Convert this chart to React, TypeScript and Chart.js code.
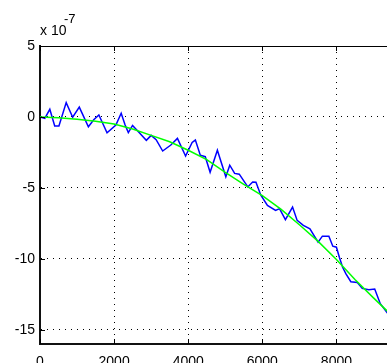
import React, { useEffect, useRef } from "react";
import { Chart, registerables } from "chart.js";

Chart.register(...registerables);

// Values in units of 1e-7
const blueX = [0, 130, 265, 397, 511, 707, 882, 1060, 1306, 1450, 1589, 1809, 2048, 2191, 2297, 2384, 2498, 2694, 2869, 3001, 3134, 3311, 3531, 3709, 3929, 4106, 4193, 4326, 4460, 4591, 4787, 5015, 5121, 5253, 5378, 5608, 5740, 5828, 5960, 6138, 6358, 6464, 6623, 6816, 6940, 7107, 7285, 7505, 7621, 7796, 7902, 8000, 8079, 8167, 8257, 8389, 8564, 8697, 8874, 9033, 9184, 9400, 9600];
const blueY = [0.0, -0.1, 0.54, -0.64, -0.64, 1.01, -0.02, 0.69, -0.69, -0.2, 0.14, -1.11, -0.57, 0.26, -0.57, -1.1, -0.6, -1.15, -1.65, -1.3, -1.6, -2.4, -1.98, -1.51, -2.75, -1.8, -1.63, -2.69, -2.8, -3.9, -2.34, -4.22, -3.4, -3.98, -4.03, -4.93, -4.58, -4.6, -5.52, -6.23, -6.58, -6.46, -7.24, -6.35, -7.29, -7.64, -7.88, -8.82, -8.4, -8.4, -9.11, -9.18, -9.89, -10.59, -11.06, -11.61, -11.66, -12.08, -12.17, -12.12, -13.16, -13.9, -14.3];

const greenX = [0, 500, 1000, 1500, 2000, 2500, 3000, 3500, 4000, 4500, 5000, 5500, 6000, 6500, 7000, 7500, 8000, 8500, 9000, 9500, 10000];
const greenY = [0, -0.05, -0.17, -0.3, -0.5, -0.85, -1.3, -1.75, -2.35, -3.0, -3.9, -4.75, -5.55, -6.5, -7.6, -8.75, -10.05, -11.45, -12.75, -14.0, -15.3];

const xTicks = [0, 2000, 4000, 6000, 8000, 10000];
const yTicks = [-15, -10, -5, 0, 5];

const FONT = "'Liberation Sans', Arial, sans-serif";

export default function App() {
  const ref = useRef<HTMLCanvasElement | null>(null);

  useEffect(() => {
    const canvas = ref.current;
    if (!canvas) return;

    const frame = {
      id: "matlabFrame",
      afterDraw(chart: any) {
        const { ctx, chartArea } = chart;
        const xs = chart.scales.x;
        const ys = chart.scales.y;
        ctx.save();
        ctx.strokeStyle = "#000";
        ctx.lineWidth = 1;
        // top border
        ctx.beginPath();
        ctx.moveTo(chartArea.left, chartArea.top + 0.5);
        ctx.lineTo(chartArea.right, chartArea.top + 0.5);
        ctx.stroke();
        // inward tick marks
        ctx.beginPath();
        for (const t of xTicks) {
          const px = Math.round(xs.getPixelForValue(t)) + 0.5;
          ctx.moveTo(px, chartArea.bottom);
          ctx.lineTo(px, chartArea.bottom - 5);
          ctx.moveTo(px, chartArea.top);
          ctx.lineTo(px, chartArea.top + 5);
        }
        for (const t of yTicks) {
          const py = Math.round(ys.getPixelForValue(t)) + 0.5;
          ctx.moveTo(chartArea.left, py);
          ctx.lineTo(chartArea.left + 5, py);
        }
        ctx.stroke();
        // exponent label
        ctx.fillStyle = "#000";
        ctx.textBaseline = "alphabetic";
        ctx.textAlign = "left";
        ctx.font = `14px ${FONT}`;
        ctx.fillText("x 10", 40, 35);
        ctx.font = `13px ${FONT}`;
        ctx.fillText("-7", 64, 23);
        ctx.restore();
      },
    };

    const chart = new Chart(canvas, {
      type: "line",
      data: {
        datasets: [
          {
            label: "fit",
            data: greenX.map((x, i) => ({ x, y: greenY[i] })),
            borderColor: "rgb(0,255,0)",
            borderWidth: 1.5,
            pointRadius: 0,
            fill: false,
            tension: 0,
          },
          {
            label: "signal",
            data: blueX.map((x, i) => ({ x, y: blueY[i] })),
            borderColor: "rgb(0,0,255)",
            borderWidth: 1.5,
            pointRadius: 0,
            fill: false,
            tension: 0,
          },
        ],
      },
      options: {
        animation: false,
        responsive: false,
        devicePixelRatio: 1,
        layout: { padding: { left: 0, top: 46, right: 22, bottom: 0 } },
        plugins: { legend: { display: false }, tooltip: { enabled: false } },
        scales: {
          x: {
            type: "linear",
            min: 0,
            max: 10000,
            afterBuildTicks: (s: any) => {
              s.ticks = xTicks.map((v) => ({ value: v }));
            },
            afterFit: (s: any) => {
              s.height = 19;
            },
            grid: { color: "#000", lineWidth: 1, drawTicks: false },
            border: { display: true, color: "#111", width: 2, dash: [1, 5] },
            ticks: {
              padding: 10,
              color: "#000",
              font: { family: FONT, size: 14 },
              maxRotation: 0,
              autoSkip: false,
              callback: (v: any) => String(v),
            },
          },
          y: {
            type: "linear",
            min: -16,
            max: 5,
            afterBuildTicks: (s: any) => {
              s.ticks = yTicks.map((v) => ({ value: v }));
            },
            afterFit: (s: any) => {
              s.width = 40;
            },
            grid: { color: "#000", lineWidth: 1, drawTicks: false },
            border: { display: true, color: "#111", width: 2, dash: [1, 5] },
            ticks: {
              padding: 5,
              color: "#000",
              font: { family: FONT, size: 14 },
              autoSkip: false,
              callback: (v: any) => String(v),
            },
          },
        },
      },
      plugins: [frame],
    });

    return () => chart.destroy();
  }, []);

  return (
    <div
      style={{
        position: "absolute",
        left: 0,
        top: 0,
        width: 387,
        height: 363,
        overflow: "hidden",
        background: "#fff",
      }}
    >
      <canvas ref={ref} width={440} height={363} style={{ display: "block" }} />
    </div>
  );
}
